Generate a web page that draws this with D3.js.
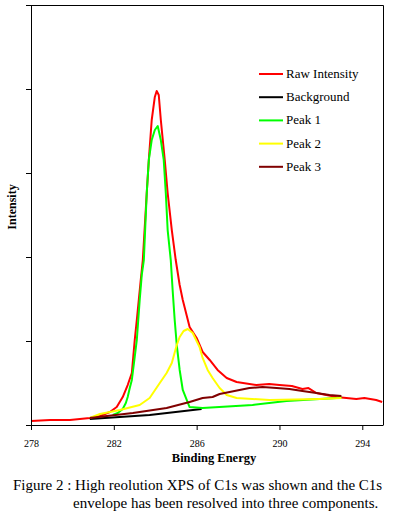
<!DOCTYPE html>
<html>
<head>
<meta charset="utf-8">
<script src="https://cdnjs.cloudflare.com/ajax/libs/d3/7.8.5/d3.min.js"></script>
<style>
  body { margin: 0; background: #fff; }
  svg { display: block; }
</style>
</head>
<body>
<div id="chart"></div>
<script>
// C1s XPS envelope: raw data, background and three fitted peaks
const xTicks = [278, 282, 286, 290, 294];
const yTicks = [0, 1000, 2000, 3000, 4000, 5000];

const rawIntensity = [
  [278.00, 48], [278.92, 60], [279.88, 60], [280.84, 83], [281.33, 107],
  [281.81, 155], [282.14, 214], [282.43, 333], [282.67, 476], [282.87, 619],
  [283.01, 1012], [283.11, 1250], [283.30, 1726], [283.40, 1964], [283.59, 2762],
  [283.69, 3155], [283.83, 3631], [283.98, 3905], [284.07, 3976], [284.17, 3929],
  [284.27, 3631], [284.46, 3155], [284.60, 2762], [284.80, 2321], [284.99, 1964],
  [285.18, 1667], [285.33, 1488], [285.66, 1167], [286.00, 1036], [286.29, 869],
  [286.63, 774], [287.01, 655], [287.45, 560], [287.93, 512], [288.89, 476],
  [289.50, 488], [290.00, 476], [290.60, 464], [291.11, 429], [291.40, 440],
  [291.78, 381], [292.75, 333], [293.71, 310], [294.10, 322], [294.67, 298],
  [294.96, 274]
];

const background = [
  [280.84, 71], [283.73, 119], [286.24, 190]
];

const peak1 = [
  [281.95, 119], [282.19, 143], [282.43, 190], [282.58, 262], [282.67, 333],
  [282.77, 440], [282.87, 536], [283.01, 810], [283.11, 1012], [283.25, 1488],
  [283.35, 1786], [283.45, 1964], [283.59, 2762], [283.69, 3155], [283.83, 3393],
  [283.98, 3512], [284.12, 3560], [284.27, 3393], [284.41, 3155], [284.51, 2762],
  [284.60, 2321], [284.75, 1964], [284.84, 1607], [284.94, 1250], [285.04, 952],
  [285.18, 655], [285.33, 417], [285.52, 298], [285.66, 214], [286.29, 202],
  [288.70, 238], [290.34, 286], [292.75, 321], [292.99, 333]
];

const peak2 = [
  [280.84, 83], [281.33, 131], [282.29, 179], [283.25, 238], [283.73, 321],
  [284.22, 500], [284.55, 619], [284.80, 738], [285.04, 952], [285.18, 1048],
  [285.37, 1119], [285.57, 1143], [285.81, 1095], [286.14, 929], [286.29, 798],
  [286.53, 655], [286.77, 560], [287.11, 440], [287.45, 357], [287.93, 321],
  [289.52, 298], [291.93, 310], [292.99, 321]
];

const peak3 = [
  [280.84, 83], [282.92, 143], [284.55, 202], [285.66, 274], [286.29, 321],
  [286.77, 333], [287.11, 369], [287.59, 393], [288.07, 417], [288.55, 440],
  [289.18, 452], [289.86, 440], [290.48, 429], [291.11, 405], [291.78, 381],
  [292.41, 357], [292.99, 345]
];

const seriesNames = ["Raw Intensity", "Background", "Peak 1", "Peak 2", "Peak 3"];
const seriesColors = ["#ff0000", "#000000", "#00ff00", "#ffff00", "#800000"];
const seriesData = [rawIntensity, background, peak1, peak2, peak3];

const W = 406, H = 519;
const plot = { left: 31, right: 383, top: 5, bottom: 425 };

const svg = d3.select("#chart")
  .append("svg")
  .attr("width", W)
  .attr("height", H)
  .style("font-family", "'Liberation Serif', 'Times New Roman', serif");

const x = d3.scaleLinear().domain([278, 295]).range([plot.left, plot.right]);
const y = d3.scaleLinear().domain([0, 5000]).range([plot.bottom, plot.top]);

// frame: top and right sides
svg.append("path")
  .attr("d", `M${plot.left},${plot.top + 0.5}H${plot.right + 0.5}V${plot.bottom}`)
  .attr("fill", "none")
  .attr("stroke", "#000")
  .attr("stroke-width", 1);

const line = d3.line()
  .x((d) => x(d[0]))
  .y((d) => y(d[1]));

seriesData.forEach((data, i) => {
  svg.append("path")
    .datum(data)
    .attr("fill", "none")
    .attr("stroke", seriesColors[i])
    .attr("stroke-width", 2)
    .attr("stroke-linejoin", "round")
    .attr("d", line);
});

svg.append("g")
  .attr("transform", `translate(0,${plot.bottom})`)
  .call(d3.axisBottom(x).tickValues(xTicks).tickSize(5).tickSizeOuter(0).tickFormat(d3.format("d")))
  .call((g) => {
    g.selectAll("line, path").attr("stroke", "#000");
    g.selectAll(".tick text")
      .attr("y", 15)
      .style("font-size", "10px")
      .style("font-family", "'Liberation Serif', serif");
  });

svg.append("g")
  .attr("transform", `translate(${plot.left},0)`)
  .call(d3.axisLeft(y).tickValues(yTicks).tickSize(5).tickSizeOuter(0).tickFormat(""))
  .call((g) => g.selectAll("line, path").attr("stroke", "#000"));

// extend left axis down to bottom tick
svg.append("line")
  .attr("x1", plot.left + 0.5).attr("x2", plot.left + 0.5)
  .attr("y1", plot.bottom).attr("y2", plot.bottom + 5)
  .attr("stroke", "#000");

svg.append("text")
  .attr("x", 214)
  .attr("y", 462)
  .attr("text-anchor", "middle")
  .style("font-size", "12.5px")
  .style("font-weight", "bold")
  .text("Binding Energy");

svg.append("text")
  .attr("transform", "translate(16,207) rotate(-90)")
  .attr("text-anchor", "middle")
  .style("font-size", "12px")
  .style("font-weight", "bold")
  .text("Intensity");

// legend
const legend = svg.append("g").attr("transform", "translate(259,74)");
seriesNames.forEach((name, i) => {
  const row = legend.append("g").attr("transform", `translate(0,${i * 23.2})`);
  row.append("line")
    .attr("x1", 0).attr("x2", 24)
    .attr("y1", 0).attr("y2", 0)
    .attr("stroke", seriesColors[i])
    .attr("stroke-width", 2);
  row.append("text")
    .attr("x", 27)
    .attr("y", 4)
    .style("font-size", "13px")
    .text(name);
});

// caption
svg.append("text")
  .attr("x", 13)
  .attr("y", 490)
  .style("font-size", "15px")
  .text("Figure 2 : High reolution XPS of C1s was shown and the C1s");

svg.append("text")
  .attr("x", 73)
  .attr("y", 508)
  .style("font-size", "15px")
  .text("envelope has been resolved into three components.");
</script>
</body>
</html>
